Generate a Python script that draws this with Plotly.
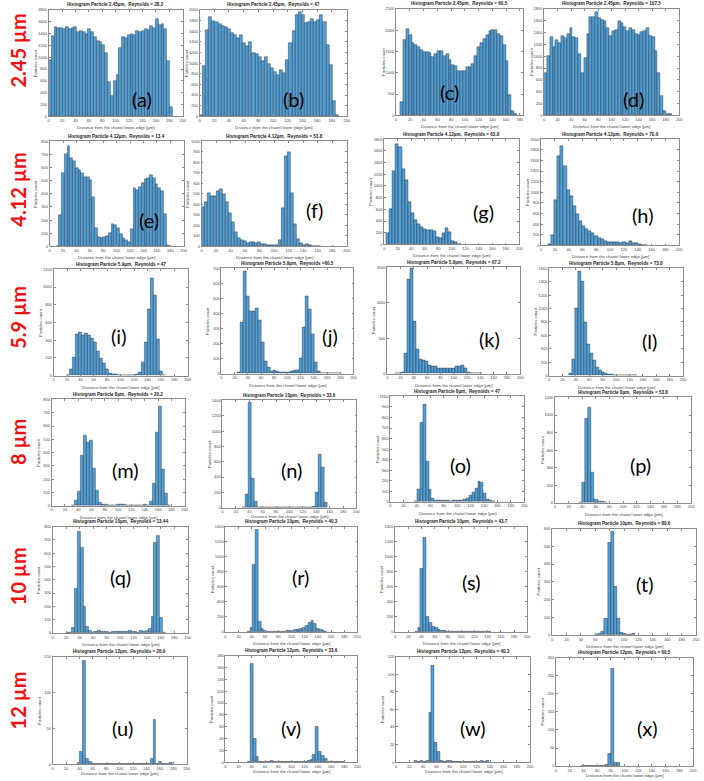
import plotly.graph_objects as go

# ---------------- DATA ----------------
PANEL_LETTERS = list("abcdefghijklmnopqrstuvwx")
ROW_LABELS = ["2.45 µm", "4.12 µm", "5.9 µm", "8 µm", "10 µm", "12 µm"]
TITLES = [
    "Histogram Particle 2.45µm,  Reynolds = 28.2",
    "Histogram Particle 2.45µm,  Reynolds = 47",
    "Histogram Particle 2.45µm,  Reynolds = 60.5",
    "Histogram Particle 2.45µm,  Reynolds = 107.5",
    "Histogram Particle 4.12µm,  Reynolds = 13.4",
    "Histogram Particle 4.12µm,  Reynolds = 53.8",
    "Histogram Particle 4.12µm,  Reynolds = 63.8",
    "Histogram Particle 4.12µm,  Reynolds = 70.6",
    "Histogram Particle 5.9µm,  Reynolds = 47",
    "Histogram Particle 5.9µm,  Reynolds =60.5",
    "Histogram Particle 5.8µm,  Reynolds = 67.2",
    "Histogram Particle 5.8µm,  Reynolds = 73.8",
    "Histogram Particle 8µm,  Reynolds = 20.2",
    "Histogram Particle 10µm,  Reynolds = 33.6",
    "Histogram Particle 8µm,  Reynolds = 47",
    "Histogram Particle 8µm,  Reynolds = 53.8",
    "Histogram Particle 10µm,  Reynolds = 13.44",
    "Histogram Particle 10µm,  Reynolds = 40.3",
    "Histogram Particle 10µm,  Reynolds = 43.7",
    "Histogram Particle 10µm,  Reynolds = 80.6",
    "Histogram Particle 12µm,  Reynolds = 26.9",
    "Histogram Particle 12µm,  Reynolds = 33.6",
    "Histogram Particle 12µm,  Reynolds = 40.3",
    "Histogram Particle 12µm,  Reynolds = 60.5",
]
X_TITLE = "Distance from the chanel lower edge [µm]"
Y_TITLE = "Particles count"

# bin start and bin width (µm) per panel
BIN_START = [0, 0, 6, 0, 10, 0, 3, 10, 19, 24, 12.5, 30,
             30, 30, 36, 35, 20, 33, 30, 60, 36.6, 33.5, 27, 37]
BIN_WIDTH = [4.2, 4.2, 4.15, 4.2, 4.1, 4.1, 4.6, 4.5, 4.5, 4.5, 4.5, 4.4,
             4.5, 4.35, 4.3, 4.6, 4.2, 4.2, 4.3, 4.3, 4.2, 4.3, 4.3, 4.3]

COUNTS_A = [960, 1360, 1520, 1490, 1500, 1480, 1510, 1480, 1490, 1520, 1430, 1440, 1430, 1400, 1470,
            1420, 1350, 1280, 1250, 1200, 1080, 580, 350, 600, 700, 1160, 1350, 1330, 1370, 1400,
            1380, 1450, 1420, 1440, 1470, 1460, 1530, 1500, 1640, 1540, 1560, 1480, 940, 160]
COUNTS_B = [20, 950, 1620, 1870, 1800, 1770, 1740, 1700, 1680, 1640, 1560, 1530, 1470, 1530, 1380,
            1320, 1400, 1200, 1170, 1120, 1050, 1120, 980, 900, 830, 780, 880, 820, 1060, 1380,
            1610, 1900, 1960, 1900, 1760, 1780, 1840, 1780, 1820, 1900, 1780, 1350, 960, 280, 30]
COUNTS_C = [320, 1780, 2040, 1900, 1700, 1650, 1600, 1530, 1490, 1500, 1460, 1360, 1440, 1510, 1510,
            1400, 1440, 1300, 1190, 1170, 1050, 1050, 1050, 1130, 1140, 1210, 1390, 1600, 1700, 1800,
            1890, 1990, 2000, 2000, 1920, 1870, 1650, 1280, 480, 100, 20]
COUNTS_D = [720, 1000, 1320, 1160, 1280, 1230, 1340, 1310, 1380, 1470, 1320, 1310, 1030, 720, 970,
            1380, 1660, 1660, 1750, 1640, 1620, 1590, 1470, 1350, 1420, 1450, 1600, 1570, 1500, 1420,
            1480, 1450, 1380, 1360, 1410, 1420, 1480, 1350, 1330, 1090, 720, 330, 80, 20, 20]
COUNTS_E = [5, 240, 555, 700, 760, 670, 650, 595, 580, 560, 525, 530, 505, 375, 140, 70, 60, 70, 80,
            100, 170, 160, 140, 95, 60, 50, 30, 135, 440, 430, 450, 480, 510, 520, 540, 520, 470,
            440, 420, 245, 10, 3]
COUNTS_F = [370, 420, 505, 480, 480, 530, 545, 500, 420, 320, 230, 140, 80, 60, 50, 35, 40, 40, 30,
            40, 25, 20, 15, 12, 10, 15, 60, 360, 860, 900, 505, 215, 65, 30, 15, 20, 15, 5, 5, 2]
COUNTS_G = [190, 600, 1250, 1720, 1660, 1280, 1100, 720, 530, 420, 340, 300, 260, 250, 250, 220,
            130, 110, 200, 280, 210, 60, 40, 5]
COUNTS_H = [30, 200, 860, 1680, 1860, 1490, 1050, 920, 740, 590, 460, 360, 300, 270, 230, 170, 140,
            110, 80, 70, 60, 60, 55, 50, 60, 40, 75, 50, 40, 20, 10, 5]
COUNTS_I = [5, 70, 210, 470, 490, 460, 475, 460, 420, 380, 280, 200, 140, 70, 30, 15, 10, 8, 5, 5,
            5, 5, 5, 10, 40, 150, 380, 750, 1100, 910, 410, 50, 5]
COUNTS_J = [10, 340, 680, 515, 415, 415, 435, 355, 210, 85, 45, 15, 20, 15, 10, 10, 10, 12, 15, 25,
            25, 100, 310, 515, 425, 260, 75, 15, 5, 0, 0, 0, 0, 0, 5]
COUNTS_K = [5, 10, 20, 280, 1330, 1490, 740, 340, 200, 185, 170, 120, 110, 100, 80, 70, 75, 75, 70,
            70, 100, 110, 120, 80, 20, 5, 3, 2, 1]
COUNTS_L = [30, 250, 1010, 1560, 1410, 790, 470, 340, 230, 130, 80, 50, 35, 25, 15, 10, 10, 5, 5, 5,
            10, 5, 2]
COUNTS_M = [5, 40, 110, 380, 530, 480, 490, 280, 115, 25, 8, 8, 5, 5, 6, 8, 10, 8, 5, 5, 5, 5, 5, 6,
            8, 5, 30, 170, 550, 750, 270, 90, 5]
COUNTS_N = [10, 170, 1370, 380, 80, 10, 0, 0, 0, 0, 0, 0, 0, 0, 0, 0, 0, 0, 0, 0, 0, 0, 3, 0, 20,
            200, 700, 520, 70]
COUNTS_O = [5, 115, 750, 920, 380, 120, 35, 15, 10, 8, 10, 8, 5, 8, 8, 10, 15, 20, 35, 60, 90, 130,
            195, 185, 80, 25, 10, 5]
COUNTS_P = [5, 230, 960, 1090, 350, 40, 20, 10, 5]
COUNTS_Q = [5, 5, 40, 330, 765, 640, 195, 50, 20, 5, 10, 15, 12, 10, 8, 5, 8, 10, 10, 10, 12, 10, 15,
            10, 12, 5, 15, 10, 20, 35, 125, 680, 730, 115, 5]
COUNTS_R = [5, 60, 900, 1360, 140, 40, 20, 10, 5, 3, 5, 5, 8, 10, 15, 20, 20, 25, 30, 40, 60, 90,
            120, 150, 110, 50, 35, 15, 5]
COUNTS_S = [10, 60, 840, 1250, 210, 120, 70, 55, 30, 20, 15, 10, 10, 10, 8, 5, 5, 5, 3, 2, 2, 5, 5,
            8, 10, 5, 3]
COUNTS_T = [3, 10, 20, 90, 520, 585, 270, 90, 15, 5, 3, 2, 5]
COUNTS_U = [2, 17, 145, 7, 3, 1, 1, 1, 0, 0, 0, 1, 0, 0, 0, 0, 0, 0, 1, 0, 0, 0, 0, 0, 1, 0, 7, 62,
            0, 3, 0, 0, 0, 2]
COUNTS_V = [1, 166, 40, 9, 0, 0, 0, 0, 2, 0, 0, 0, 1, 0, 0, 0, 1, 0, 0, 0, 0, 3, 4, 12, 59, 17, 10,
            5, 0, 0, 0, 0, 0, 1]
COUNTS_W = [1, 0, 1, 0, 2, 56, 110, 22, 12, 2, 0, 1, 1, 0, 0, 0, 0, 0, 0, 0, 0, 0, 0, 1, 0, 1]
COUNTS_X = [2, 1, 0, 1, 0, 0, 1, 0, 3, 35, 270, 8, 8]

ALL_COUNTS = [COUNTS_A, COUNTS_B, COUNTS_C, COUNTS_D, COUNTS_E, COUNTS_F, COUNTS_G, COUNTS_H,
              COUNTS_I, COUNTS_J, COUNTS_K, COUNTS_L, COUNTS_M, COUNTS_N, COUNTS_O, COUNTS_P,
              COUNTS_Q, COUNTS_R, COUNTS_S, COUNTS_T, COUNTS_U, COUNTS_V, COUNTS_W, COUNTS_X]

Y_MAX = [1800, 2000, 2500, 1800, 800, 1000, 1800, 2000, 1200, 700, 1500, 1600,
         800, 1400, 1000, 1200, 800, 1400, 1400, 600, 150, 180, 120, 300]
Y_DTICK = [200, 200, 500, 200, 100, 100, 200, 200, 200, 100, 500, 200,
           100, 200, 100, 200, 100, 200, 200, 100, 50, 20, 20, 50]
X_MAX = [200, 200, 185, 200] + [200] * 20
X_TICKS_STD = [0, 20, 40, 60, 80, 100, 120, 140, 160, 180, 200]

# ---------------- LAYOUT (pixel boxes: left, top, right, bottom) ----------------
W, H = 704, 781
BOXES = [
    (48, 7, 183, 114), (200, 7, 348, 114), (398, 6, 526, 113), (547, 6, 683, 113),
    (49, 139, 184, 245), (202, 139, 348, 245), (386, 137, 522, 243), (544, 137, 683, 244),
    (53, 268, 188, 375), (222, 267, 355, 373), (389, 266, 523, 373), (552, 267, 687, 375),
    (51, 399, 185, 506), (223, 400, 358, 508), (392, 396, 527, 502), (558, 397, 695, 503),
    (52, 527, 188, 634), (226, 527, 359, 633), (397, 527, 530, 633), (555, 529, 700, 636),
    (52, 658, 187, 766), (226, 657, 359, 764), (398, 658, 533, 764), (559, 659, 697, 768),
]
XTITLE_GAP = [11.5] * 13 + [9.0] + [11.5] * 6 + [9.5] * 4
LETTER_POS = [
    (142, 97), (295, 97), (452, 90), (637, 97),
    (149, 218), (316, 208), (486, 210), (647, 213),
    (118, 335), (331, 335), (492, 338), (653, 340),
    (125, 470), (293, 470), (463, 465), (644, 465),
    (120, 578), (302, 578), (474, 583), (648, 585),
    (122, 730), (292, 730), (475, 730), (651, 730),
]
ROW_LABEL_Y = [48, 188, 316, 442, 577, 702]

BAR_FILL = "rgb(84,158,210)"
BAR_EDGE = "rgba(15,30,45,0.75)"
AX_COLOR = "rgb(140,140,140)"
SMALL_FONT = "Liberation Sans, Arial, sans-serif"


def px(x):
    return x / W


def py(y):
    return 1 - y / H


fig = go.Figure()
layout = {}
annotations = []

for k in range(24):
    counts = ALL_COUNTS[k]
    w = BIN_WIDTH[k]
    s = BIN_START[k]
    centers = [s + (i + 0.5) * w for i in range(len(counts))]
    suf = "" if k == 0 else str(k + 1)
    fig.add_trace(go.Bar(
        x=centers, y=counts, width=[w] * len(counts),
        xaxis="x" + suf, yaxis="y" + suf,
        marker=dict(color=BAR_FILL, line=dict(color=BAR_EDGE, width=0.5)),
        showlegend=False, hoverinfo="skip",
    ))
    l, t, r, b = BOXES[k]
    xticks = [v for v in X_TICKS_STD if v <= X_MAX[k]]
    layout["xaxis" + suf] = dict(
        domain=[px(l), px(r)], anchor="y" + suf, range=[0, X_MAX[k]],
        tickmode="array", tickvals=xticks, ticktext=[str(v) for v in xticks],
        showline=True, mirror="ticks", linecolor=AX_COLOR, linewidth=0.8,
        ticks="inside", ticklen=2, tickwidth=0.6, tickcolor=AX_COLOR,
        tickfont=dict(size=4, color="#444", family=SMALL_FONT),
        showgrid=False, zeroline=False, fixedrange=True,
    )
    layout["yaxis" + suf] = dict(
        domain=[py(b), py(t)], anchor="x" + suf, range=[0, Y_MAX[k]],
        tickmode="linear", tick0=0, dtick=Y_DTICK[k],
        showline=True, mirror="ticks", linecolor=AX_COLOR, linewidth=0.8,
        ticks="inside", ticklen=2, tickwidth=0.6, tickcolor=AX_COLOR,
        tickfont=dict(size=4, color="#444", family=SMALL_FONT),
        showgrid=False, zeroline=False, fixedrange=True,
    )
    # subplot title
    annotations.append(dict(
        x=px((l + r) / 2), y=py(t - 0.5), xref="paper", yref="paper",
        text="<b>" + TITLES[k] + "</b>", showarrow=False, xanchor="center", yanchor="bottom",
        font=dict(size=4.6, color="#222", family=SMALL_FONT),
    ))
    # x-axis title
    annotations.append(dict(
        x=px((l + r) / 2), y=py(b + XTITLE_GAP[k]), xref="paper", yref="paper",
        text=X_TITLE, showarrow=False, xanchor="center", yanchor="middle",
        font=dict(size=4.2, color="#444", family=SMALL_FONT),
    ))
    # y-axis title
    annotations.append(dict(
        x=px(l - 13.5), y=py((t + b) / 2), xref="paper", yref="paper",
        text=Y_TITLE, showarrow=False, xanchor="center", yanchor="middle", textangle=-90,
        font=dict(size=4.2, color="#444", family=SMALL_FONT),
    ))
    # panel letter
    lx, ly = LETTER_POS[k]
    annotations.append(dict(
        x=px(lx), y=py(ly), xref="paper", yref="paper",
        text="(" + PANEL_LETTERS[k] + ")", showarrow=False, xanchor="center", yanchor="middle",
        font=dict(size=20, color="black", family="Lato, Open Sans, sans-serif"),
    ))

for i, lab in enumerate(ROW_LABELS):
    annotations.append(dict(
        x=px(17), y=py(ROW_LABEL_Y[i]), xref="paper", yref="paper",
        text="<b>" + lab + "</b>", showarrow=False, xanchor="center", yanchor="middle",
        textangle=-90, font=dict(size=20, color="#ee1111", family="Lato, Open Sans, sans-serif"),
    ))

fig.update_layout(
    width=W, height=H, margin=dict(l=0, r=0, t=0, b=0),
    paper_bgcolor="white", plot_bgcolor="white",
    bargap=0, annotations=annotations, **layout,
)

fig.write_html("out.html", config={"displayModeBar": False})
